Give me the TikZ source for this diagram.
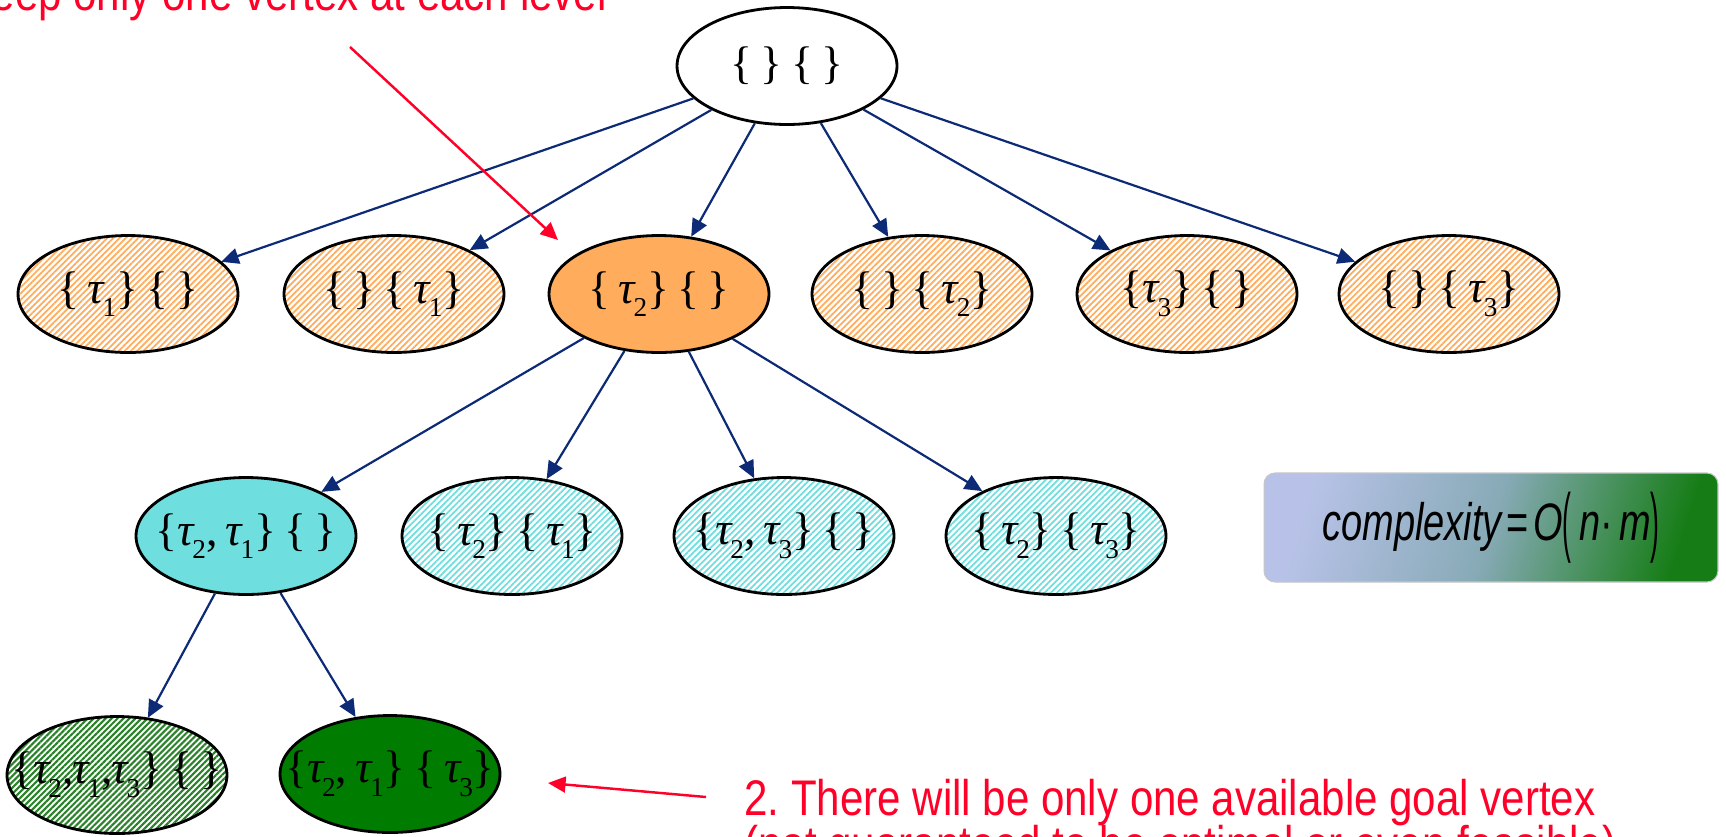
\documentclass[tikz,border=0pt]{standalone}
\usepackage{fontspec}
\setmainfont{Liberation Serif}
\newfontfamily\arialf{Liberation Sans}
\usetikzlibrary{arrows.meta,patterns.meta,shapes.geometric}
\definecolor{navy}{RGB}{12,42,118}
\definecolor{redc}{RGB}{255,0,40}
\definecolor{orangec}{RGB}{255,172,92}
\definecolor{cyanc}{RGB}{110,222,222}
\definecolor{darkg}{RGB}{0,125,0}
\definecolor{hatchg}{RGB}{40,130,40}
\definecolor{lav}{RGB}{184,194,232}
\definecolor{midc}{RGB}{135,170,182}
\definecolor{boxg}{RGB}{22,125,22}
\newcommand\tsb[1]{{\itshape τ}\kern-0.03em\raisebox{-0.3em}{\fontsize{15.5}{15.5}\selectfont #1}}
\newcommand\gsp{\hspace{0.18em}}
\newcommand\lbl[1]{\makebox[0pt]{#1}}
\tikzset{
  vtx/.style={ellipse, draw=black, line width=1.6pt, minimum width=4.4cm, minimum height=2.34cm,
    inner sep=0pt, font=\fontsize{26}{26}\selectfont},
  hatchO/.style={vtx, pattern={Lines[angle=45,distance=2.5pt,line width=1pt]}, pattern color=orangec},
  hatchC/.style={vtx, pattern={Lines[angle=45,distance=2.5pt,line width=1pt]}, pattern color=cyanc},
  hatchG/.style={vtx, pattern={Lines[angle=45,distance=2.4pt,line width=1.2pt]}, pattern color=hatchg},
  edgeb/.style={draw=navy, line width=1.25pt, -{Triangle[length=10pt,width=9pt]}},
  edger/.style={draw=redc, line width=1.4pt, -{Triangle[length=10pt,width=9pt]}},
  redtext/.style={inner sep=0pt, text=redc, font=\arialf\fontsize{28.5}{26.6}\selectfont},
  cbox/.style={rounded corners=0.22cm, minimum width=9.08cm, minimum height=2.18cm, inner sep=0pt,
    draw=gray!45, line width=0.6pt, top color=lav, bottom color=boxg, middle color=midc, shading angle=72}
}
\begin{document}
\begin{tikzpicture}[x=0.02cm,y=-0.02cm]
\useasboundingbox (0,0) rectangle (1726,836);
\fill[white] (0,0) rectangle (1726,836);
% vertices
\node[vtx, fill=white] (r) at (787,66) {\lbl{\{\gsp\}\gsp\{\gsp\}}};
\node[hatchO] (a1) at (128,294) {\lbl{\{\gsp\tsb1\}\gsp\{\gsp\}}};
\node[hatchO] (a2) at (394,294) {\lbl{\{\gsp\}\gsp\{\gsp\tsb1\}}};
\node[vtx, fill=orangec] (a3) at (659,294) {\lbl{\{\gsp\tsb2\}\gsp\{\gsp\}}};
\node[hatchO] (a4) at (922,294) {\lbl{\{\gsp\}\gsp\{\gsp\tsb2\}}};
\node[hatchO] (a5) at (1187,294) {\lbl{\{\tsb3\}\gsp\{\gsp\}}};
\node[hatchO] (a6) at (1449,294) {\lbl{\{\gsp\}\gsp\{\gsp\tsb3\}}};
\node[vtx, fill=cyanc] (b1) at (246,536) {\lbl{\{\tsb2,\gsp\tsb1\}\gsp\{\gsp\}}};
\node[hatchC] (b2) at (512,536) {\lbl{\{\gsp\tsb2\}\gsp\{\gsp\tsb1\}}};
\node[hatchC] (b3) at (784,536) {\lbl{\{\tsb2,\gsp\tsb3\}\gsp\{\gsp\}}};
\node[hatchC] (b4) at (1056,536) {\lbl{\{\gsp\tsb2\}\gsp\{\gsp\tsb3\}}};
\node[hatchG] (c1) at (117,775) {\lbl{\{\tsb2,\kern-0.02em\tsb1,\kern-0.02em\tsb3\}\gsp\{\gsp\}}};
\node[vtx, fill=darkg] (c2) at (390,774) {\lbl{\{\tsb2,\gsp\tsb1\}\gsp\{\gsp\tsb3\}}};
% edges
\foreach \t in {a1,a2,a3,a4,a5,a6} \draw[edgeb] (r) -- (\t);
\foreach \t in {b1,b2,b3,b4} \draw[edgeb] (a3) -- (\t);
\draw[edgeb] (b1) -- (c1);
\draw[edgeb] (b1) -- (c2);
% complexity box
\node[cbox] (cx) at (1491,527.5) {\scalebox{0.72}[1]{\arialf\fontsize{30}{30}\selectfont
  \itshape complexity\hspace{0.12em}\upshape=\hspace{0.12em}\itshape O\upshape\raisebox{-0.12em}{\scalebox{0.7}[1.45]{(}}\hspace{0.2em}\itshape n\upshape·\,\itshape m\upshape\raisebox{-0.12em}{\scalebox{0.7}[1.45]{)}}}};
% red annotations
\node[redtext, anchor=base east] (t1) at (607,10) {\scalebox{0.84}[1]{1.\ Keep only one vertex at each level}};
\coordinate (s1) at (350,47);
\coordinate (e1) at (558,240);
\draw[edger] (s1) -- (e1);
\node[redtext, anchor=base west] (t2) at (744,815) {\scalebox{0.84}[1]{2.\ There will be only one available goal vertex}};
\node[redtext, anchor=base west] (t3) at (744,861) {\scalebox{0.84}[1]{(not guaranteed to be optimal or even feasible)}};
\coordinate (s2) at (706,797);
\coordinate (e2) at (548,783);
\draw[edger] (s2) -- (e2);
\end{tikzpicture}
\end{document}
